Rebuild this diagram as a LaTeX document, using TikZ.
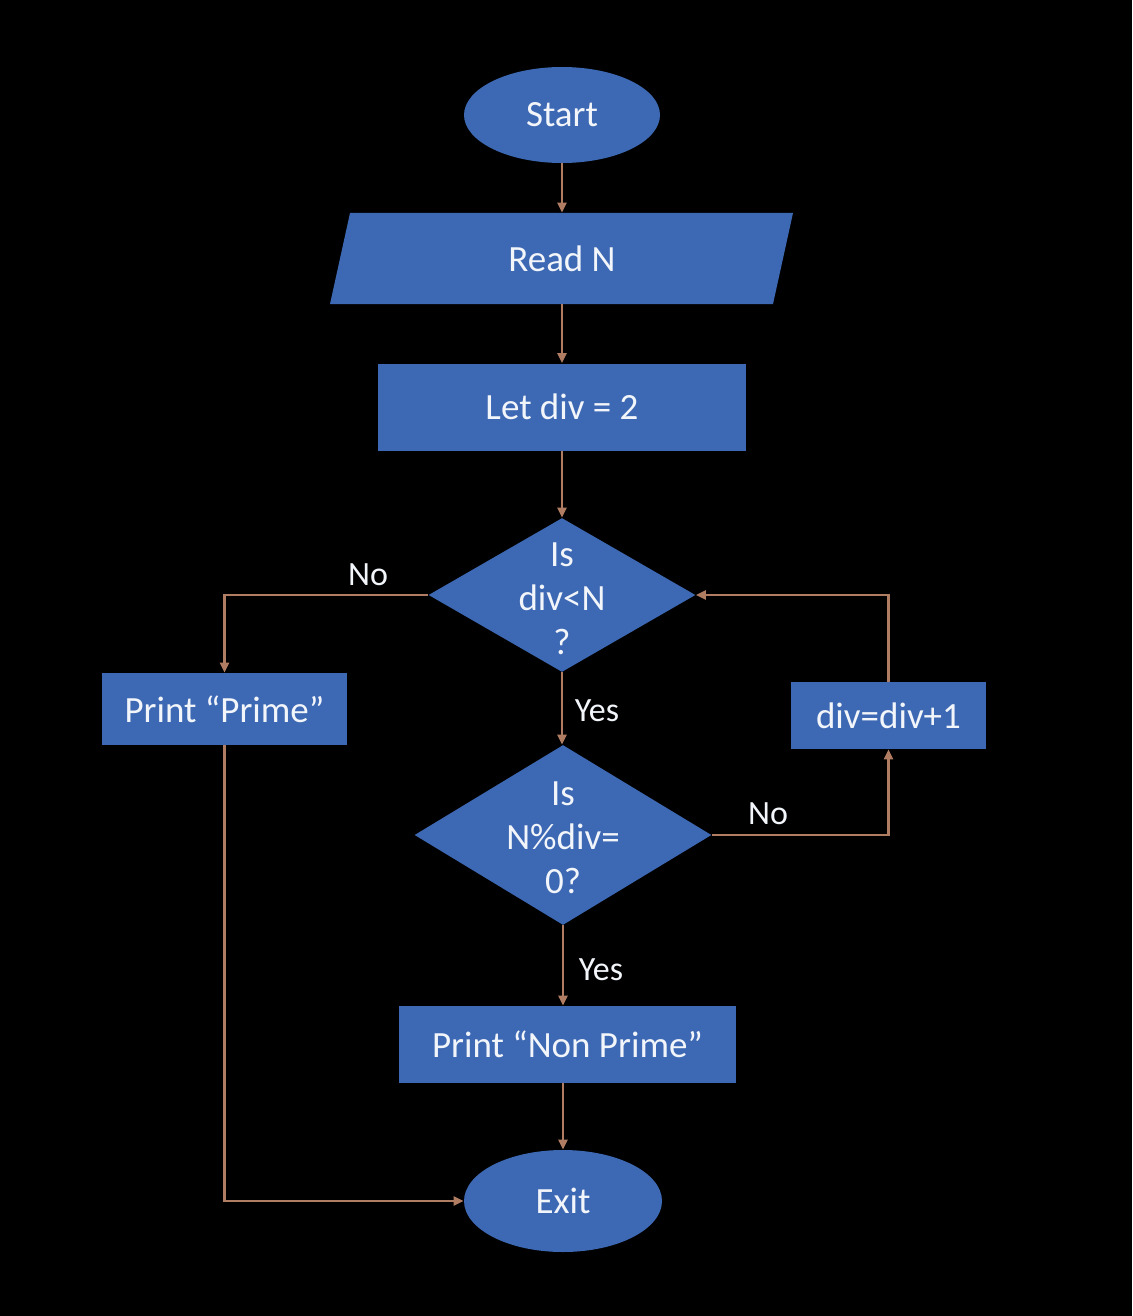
\documentclass[tikz,border=0pt]{standalone}
\usepackage{fontspec}
\setmainfont{Carlito}
\usetikzlibrary{shapes.geometric,arrows.meta}
\definecolor{boxblue}{HTML}{3D68B3}
\definecolor{flowline}{HTML}{B07C62}
\definecolor{ink}{HTML}{F2F5FA}
\begin{document}
\begin{tikzpicture}[x=0.5pt,y=-0.5pt,
  every node/.style={text=ink, font=\fontsize{18.5}{22}\selectfont, inner sep=0pt},
  blk/.style={fill=boxblue, draw=none},
  terminal/.style={blk, ellipse, minimum width=98pt, minimum height=48pt},
  process/.style={blk, rectangle},
  decision/.style={blk, diamond},
  flow/.style={draw=flowline, line width=1.1pt, -{Triangle[length=5pt,width=4.5pt]}},
  tag/.style={font=\fontsize{17}{20}\selectfont}
]
% canvas
\fill[black] (0,0) rectangle (1132,1316);
\useasboundingbox (0,0) rectangle (1132,1316);

% input/output parallelogram
\fill[boxblue] (330,304) -- (350,213) -- (793,213) -- (773,304) -- cycle;

% main column
\node[terminal] (start) at (562,115) {Start};
\node[minimum width=211pt, minimum height=45.5pt] (read) at (562,258.5) {Read N};
\node[process, minimum width=184pt, minimum height=43.5pt] (init) at (562,407) {Let div = 2};
\node[decision, minimum width=133.5pt, minimum height=77pt,
  label={[align=center, yshift=-2pt]center:Is\\div<N\\?}] (q1) at (562,595) {};
\node[decision, minimum width=148.5pt, minimum height=90pt,
  label={[align=center, yshift=-1.5pt]center:Is\\N\%div=\\0?}] (q2) at (563,835) {};
\node[process, minimum width=168.5pt, minimum height=38.5pt] (nonprime) at (567.5,1044.5) {Print “Non Prime”};
\node[terminal, minimum width=99pt, minimum height=51pt] (exit) at (563,1201) {Exit};

% side boxes
\node[process, minimum width=122.5pt, minimum height=36pt] (prime) at (224.5,709) {Print “Prime”};
\node[process, minimum width=97.5pt, minimum height=33.5pt] (inc) at (888.5,715.5) {div=div+1};

% connectors
\draw[flow] (start) -- (read);
\draw[flow] (read) -- (init);
\draw[flow] (init) -- (q1);
\draw[flow] (q1.west) -| (prime.north);
\draw[flow] (q1.south) -- (q1.south |- q2.north);
\draw[flow] (q2.east) -| (inc.south);
\draw[flow] (inc.north) |- (q1.east);
\draw[flow] (q2.south) -- (q2.south |- nonprime.north);
\draw[flow] (q2.south |- nonprime.south) -- (exit.north);
\draw[flow] (prime.south) |- (exit.west);

% branch labels
\node[tag] (noA) at (368,575) {No};
\node[tag] (yesA) at (597,711) {Yes};
\node[tag] (noB) at (768,814) {No};
\node[tag] (yesB) at (601,970) {Yes};
\end{tikzpicture}
\end{document}
